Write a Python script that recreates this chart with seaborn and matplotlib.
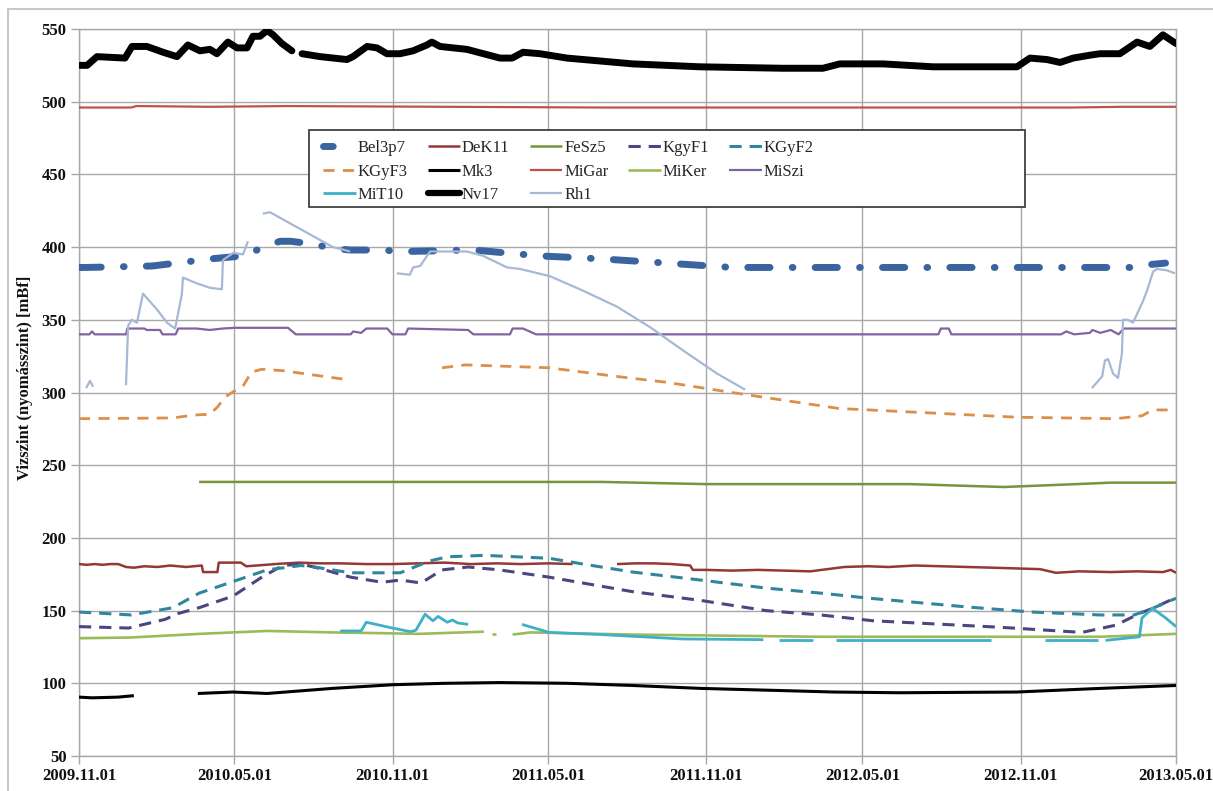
import numpy as np
import pandas as pd
import matplotlib
matplotlib.use("Agg")
import matplotlib.pyplot as plt
import matplotlib.dates as mdates
from matplotlib.lines import Line2D
from matplotlib.patches import Rectangle
import seaborn as sns

# ---------------- data (x in months since 2009.11.01, NaN = gap) ----------------
nan = np.nan
series_names = ["Bel3p7", "DeK11", "FeSz5", "KgyF1", "KGyF2", "KGyF3", "Mk3",
                "MiGar", "MiKer", "MiSzi", "MiT10", "Nv17", "Rh1"]

bel3p7_t = [0.0, 0.3, 2.8, 5.1, 6.3, 7.2, 7.7, 8.1, 9.0, 9.7, 10.4, 11.4, 12.6, 15.1, 17.6, 19.9, 22.5, 25.0, 27.6, 35.3, 40.4, 41.0, 41.6]
bel3p7_v = [386, 386, 387, 392, 394, 401, 404, 404, 402, 399, 398, 398, 397, 398, 394, 392, 389, 386, 386, 386, 386, 388, 389]

dek11_t = [0.0, 0.3, 0.6, 0.9, 1.2, 1.5, 1.8, 2.1, 2.5, 3.0, 3.5, 4.1, 4.7, 4.75, 5.3, 5.35, 6.2, 6.4, 6.8, 7.5, 8.4, 9.2, 10.0, 11.0,
           12.0, 13.0, 14.0, 15.0, 16.0, 16.9, 18.0, 18.9, 19.0,
           20.6, 21.3, 22.0, 22.7, 23.4, 23.5, 24.0, 25.0, 26.0, 27.0, 28.0, 29.3, 30.2, 31.0, 32.0, 33.0, 34.0, 35.0, 35.9,
           36.8, 37.4, 38.3, 39.5, 40.5, 41.5, 41.8, 42.0]
dek11_v = [182, 181.5, 182, 181.5, 182, 182, 180, 179.5, 180.5, 180, 181, 180, 181, 176.5, 176.5, 183, 183, 180.5, 181, 182, 183, 182.5, 182.5, 182,
           182, 182.5, 183, 182, 182.5, 182, 182.5, 182, nan,
           182, 182.5, 182.5, 182, 181, 178, 178, 177.5, 178, 177.5, 177, 180, 180.5, 180, 181, 180.5, 180, 179.5, 179,
           178.5, 176, 177, 176.5, 177, 176.5, 178, 176]

fesz5_t = [4.6, 20.0, 24.0, 31.8, 35.4, 38.2, 39.5, 42.0]
fesz5_v = [238.5, 238.5, 237, 237, 235, 237, 238, 238]

kgyf1_t = [0.0, 1.9, 3.3, 3.8, 4.6, 5.9, 7.0, 7.8, 8.5, 9.0, 10.4, 11.6, 12.3, 13.1, 13.9, 14.9, 16.1, 18.0, 21.2, 23.8, 26.3, 28.4, 30.4, 35.3, 38.4, 39.7, 40.6, 41.1, 42.0]
kgyf1_v = [139, 138, 144, 148, 152, 160, 173, 181, 182, 180, 173, 169.5, 171, 169, 178, 180, 178, 173, 163, 157, 150, 147, 143, 138.5, 135, 140, 148, 151.5, 159]

kgyf2_t = [0.0, 2.0, 3.6, 4.6, 5.9, 7.2, 8.5, 9.0, 10.4, 12.3, 13.4, 14.1, 15.5, 18.0, 19.3, 21.2, 23.8, 26.3, 28.4, 30.2, 34.0, 36.5, 39.1, 40.4, 41.1, 42.0]
kgyf2_v = [149, 147, 152, 162, 170, 178, 181, 180, 176, 176, 184, 187, 188, 186, 182, 176.5, 171, 165.5, 162, 158.6, 152.5, 149, 147, 147, 151.5, 158.5]

kgyf3_t = [0.0, 3.6, 4.4, 5.0, 5.3, 5.6, 6.3, 6.6, 7.0, 7.8, 9.0, 10.2, 10.3,
           13.9, 14.8, 18.0, 20.6, 22.5, 25.0, 27.6, 29.1, 31.4, 35.9, 39.7, 40.7, 41.1, 42.0]
kgyf3_v = [282, 282.5, 284.5, 285, 290, 297, 305, 314, 316, 315, 312, 309, nan,
           317, 319, 317, 311, 307, 300, 293, 289, 287, 283, 282, 284, 288, 288]

mk3_t = [0.0, 0.5, 1.5, 2.1, 2.2, 4.55, 5.9, 7.2, 9.7, 12.0, 14.0, 16.1, 18.7, 21.2, 23.8, 26.9, 28.9, 31.4, 35.9, 39.1, 42.0]
mk3_v = [90.5, 90, 90.5, 91.5, nan, 93, 94, 93, 96.5, 99, 100, 100.5, 100, 98.5, 96.5, 95, 94, 93.5, 94, 96.5, 98.5]

migar_t = [0.0, 2.0, 2.2, 5.0, 8.0, 14.0, 20.0, 30.0, 38.0, 40.0, 42.0]
migar_v = [496, 496, 497, 496.5, 497, 496.5, 496, 496, 496, 496.5, 496.5]

miker_t = [0.0, 2.0, 4.6, 7.2, 9.7, 11.5, 13.0, 15.5, 15.6, 15.8, 15.95, 16.0, 16.6, 17.3, 21.2, 28.4, 39.1, 42.0]
miker_v = [131, 131.5, 134, 136, 135, 134.5, 134, 135.5, nan, 134, 134, nan, 133.5, 135, 133.5, 132, 132, 134]

miszi_t = [0.0, 0.4, 0.5, 0.6, 1.8, 1.85, 2.5, 2.6, 3.1, 3.2, 3.7, 3.8, 4.5, 5.0, 5.5, 6.0, 8.0, 8.3, 10.4, 10.5, 10.8, 11.0, 11.8, 12.0,
           12.5, 12.6, 14.9, 15.1, 16.5, 16.6, 17.0, 17.5, 32.9, 33.0, 33.3, 33.4, 37.6, 37.8, 38.1, 38.7, 38.8, 39.1, 39.5, 39.8, 40.0, 42.0]
miszi_v = [340, 340, 342, 340, 340, 344, 344, 343, 343, 340, 340, 344, 344, 343, 344, 344.5, 344.5, 340, 340, 342, 341, 344, 344, 340,
           340, 344, 343, 340, 340, 344, 344, 340, 340, 344, 344, 340, 340, 342, 340, 341, 343, 341, 343, 340, 344, 344]

mit10_t = [10.0, 10.8, 11.0, 12.0, 12.7, 12.9, 13.25, 13.55, 13.75, 14.1, 14.3, 14.5, 14.9, 15.0,
           16.96, 18.0, 20.0, 23.1, 26.2, 26.5,
           26.8, 28.1, 28.5, 29.0, 34.9, 35.5, 37.0, 39.0, 39.15, 39.3, 40.6, 40.7, 41.1, 41.6, 42.0]
mit10_v = [136, 136, 142, 138, 135.5, 136.5, 147.5, 143, 146, 142, 143.5, 141.5, 140.5, nan,
           140.5, 135, 133.5, 130.5, 130, nan,
           129.5, 129.5, nan, 129.5, 129.5, nan, 129.5, 129.5, nan, 129.5, 132, 145, 151.5, 145, 139]

nv17_t = [0.04, 0.31, 0.69, 1.76, 2.03, 2.60, 3.22, 3.75, 4.17, 4.63, 5.01, 5.28, 5.70, 6.05, 6.43, 6.66, 6.93, 7.20, 7.43, 7.77, 8.15, 8.3,
          8.54, 9.23, 10.26, 10.49, 11.03, 11.41, 11.79, 12.29, 12.79, 13.32, 13.51, 13.82, 14.85, 16.12, 16.58, 17.00, 17.65, 18.68, 21.21,
          23.77, 26.95, 28.48, 29.13, 30.78, 32.70, 35.91, 36.41, 37.06, 37.56, 38.06, 38.71, 39.09, 39.85, 40.51, 41.00, 41.50, 42.0]
nv17_v = [525, 525, 531, 530, 538, 538, 534, 531, 539, 535, 536, 533, 541, 537, 537, 545, 545, 549, 546, 540, 535, nan,
          533, 531, 529, 531, 538, 537, 533, 533, 535, 539, 541, 538, 536, 530, 530, 534, 533, 530, 526,
          524, 523, 523, 526, 526, 524, 524, 530, 529, 527, 530, 532, 533, 533, 541, 538, 546, 540]

rh1_t = [0.27, 0.42, 0.54, 0.6,
         1.80, 1.88, 2.03, 2.22, 2.45, 2.99, 3.37, 3.68, 3.94, 3.98, 4.52, 5.02, 5.47, 5.51, 5.90, 6.28, 6.47, 6.6,
         7.04, 7.31, 9.72, 10.38, 10.5,
         12.17, 12.67, 12.79, 13.06, 13.44, 14.85, 15.47, 16.39, 16.88, 18.03, 19.30, 20.60, 21.86, 23.12, 24.43, 25.50, 26.0,
         38.78, 39.17, 39.28, 39.40, 39.59, 39.78, 39.93, 39.97, 40.16, 40.35, 40.51, 40.74, 40.89, 41.12, 41.27, 41.65, 41.96]
rh1_v = [303, 308, 304, nan,
         305, 346, 350, 348, 368, 357, 348, 344, 368, 379, 375, 372, 371, 391, 396, 395, 404, nan,
         423, 424, 400, 397, nan,
         382, 381, 386, 387, 397, 397, 394, 386, 385, 380, 370, 359, 345, 329, 313, 302, nan,
         303, 311, 322, 323, 313, 310, 327, 350, 350, 348, 354, 363, 370, 383, 385, 384, 382]

x_ticks = ["2009-11-01", "2010-05-01", "2010-11-01", "2011-05-01", "2011-11-01", "2012-05-01", "2012-11-01", "2013-05-01"]
y_ticks = [50, 100, 150, 200, 250, 300, 350, 400, 450, 500, 550]
y_label = "Vizszint (nyomásszint) [mBf]"

# ---------------- styles ----------------
styles = {
    "Bel3p7": dict(color="#3a64a0", lw=5.0, ls=(0, (3.2, 3.2, 0.1, 3.2)), cap="round", leg_ls=(0, (1.4, 20))),
    "DeK11": dict(color="#953735", lw=1.8, ls="-", cap="butt"),
    "FeSz5": dict(color="#77933c", lw=1.8, ls="-", cap="butt"),
    "KgyF1": dict(color="#4a4680", lw=2.2, ls=(0, (4, 2.6)), cap="butt"),
    "KGyF2": dict(color="#31859c", lw=2.2, ls=(0, (4, 2.6)), cap="butt"),
    "KGyF3": dict(color="#dc8f48", lw=2.0, ls=(0, (4, 3)), cap="butt"),
    "Mk3": dict(color="#000000", lw=2.2, ls="-", cap="butt"),
    "MiGar": dict(color="#c0504d", lw=1.6, ls="-", cap="butt"),
    "MiKer": dict(color="#9bbb59", lw=1.9, ls="-", cap="butt"),
    "MiSzi": dict(color="#8064a2", lw=1.6, ls="-", cap="butt"),
    "MiT10": dict(color="#3fb0c6", lw=2.0, ls="-", cap="butt"),
    "Nv17": dict(color="#000000", lw=5.0, ls="-", cap="round"),
    "Rh1": dict(color="#a7b8d6", lw=1.6, ls="-", cap="butt"),
}

data = {
    "Bel3p7": (bel3p7_t, bel3p7_v), "DeK11": (dek11_t, dek11_v), "FeSz5": (fesz5_t, fesz5_v),
    "KgyF1": (kgyf1_t, kgyf1_v), "KGyF2": (kgyf2_t, kgyf2_v), "KGyF3": (kgyf3_t, kgyf3_v),
    "Mk3": (mk3_t, mk3_v), "MiGar": (migar_t, migar_v), "MiKer": (miker_t, miker_v),
    "MiSzi": (miszi_t, miszi_v), "MiT10": (mit10_t, mit10_v), "Nv17": (nv17_t, nv17_v), "Rh1": (rh1_t, rh1_v),
}

base = pd.Timestamp("2009-11-01")
end = pd.Timestamp("2013-05-01")
days_per_month = (end - base).days / 42.0

frames = []
for name in series_names:
    t, v = data[name]
    df = pd.DataFrame({"t": t, "value": v})
    df["seg"] = df["value"].isna().cumsum()
    df = df.dropna()
    df["date"] = base + pd.to_timedelta(df["t"] * days_per_month, unit="D")
    df["series"] = name
    frames.append(df)
long_df = pd.concat(frames, ignore_index=True)

# ---------------- plot ----------------
sns.set_theme(style="whitegrid")
plt.rcParams["font.family"] = ["Liberation Serif", "DejaVu Serif"]

W, H = 1213, 791
fig = plt.figure(figsize=(W / 100, H / 100), dpi=100)
fig.patch.set_facecolor("white")
ax = fig.add_axes([79 / W, 1 - 756 / H, (1176 - 79) / W, (756 - 29) / H])
ax.set_facecolor("white")

for i, name in enumerate(series_names):
    st = styles[name]
    sub = long_df[long_df["series"] == name]
    sns.lineplot(data=sub, x="date", y="value", units="seg", estimator=None, ax=ax,
                 color=st["color"], linewidth=st["lw"], linestyle=st["ls"],
                 dash_capstyle=st["cap"], solid_capstyle=st["cap"], legend=False, zorder=3 + i * 0.01)

ax.set_xlim(base, end)
ax.set_ylim(50, 550)
ax.set_yticks(y_ticks)
ax.set_xticks([pd.Timestamp(d) for d in x_ticks])
ax.xaxis.set_major_formatter(mdates.DateFormatter("%Y.%m.%d"))
ax.grid(True, color="#a8a8a8", linewidth=1.0)
for s in ax.spines.values():
    s.set_color("#a8a8a8")
    s.set_linewidth(1.0)
ax.tick_params(axis="both", which="major", bottom=True, left=True, length=6, width=1.0, color="#a8a8a8",
               labelsize=12, labelcolor="#111111", pad=3)
for lab in ax.get_xticklabels() + ax.get_yticklabels():
    lab.set_fontweight("bold")
ax.set_xlabel("")
ax.set_ylabel(y_label, fontsize=12, fontweight="bold", color="#111111")
ax.yaxis.set_label_coords((33 - 79) / (1176 - 79), 0.52)

# legend (row-major order like the reference)
leg_order = ["Bel3p7", "KGyF3", "MiT10", "DeK11", "Mk3", "Nv17", "FeSz5", "MiGar", "Rh1",
             "KgyF1", "MiKer", "KGyF2", "MiSzi"]
handles = []
for name in leg_order:
    st = styles[name]
    handles.append(Line2D([0], [0], color=st["color"], linewidth=st["lw"] if name != "Nv17" else 4.5,
                          linestyle=st.get("leg_ls", st["ls"]), dash_capstyle=st["cap"],
                          solid_capstyle=st["cap"]))

box = Rectangle((309 / W, 1 - 207 / H), (1025 - 309) / W, (207 - 130) / H, transform=fig.transFigure,
                facecolor="white", edgecolor="#404040", linewidth=1.3, zorder=9)
ax.add_patch(box)
box.set_clip_on(False)

leg = ax.legend(handles, leg_order, ncol=5, loc="upper left",
                bbox_to_anchor=(323 / W, 1 - 140 / H), bbox_transform=fig.transFigure,
                frameon=False, fontsize=12,
                handlelength=1.95, handletextpad=0.12, columnspacing=1.2,
                labelspacing=0.45, borderpad=0.0, borderaxespad=0)
leg.set_zorder(10)

# outer chart frame
fig.patches.append(Rectangle((8 / W, -0.5), 2.0, 0.5 + 1 - 9 / H, transform=fig.transFigure,
                             fill=False, edgecolor="#c8c8c8", linewidth=1.5, zorder=0))

fig.savefig("out.png", dpi=100, facecolor="white")
